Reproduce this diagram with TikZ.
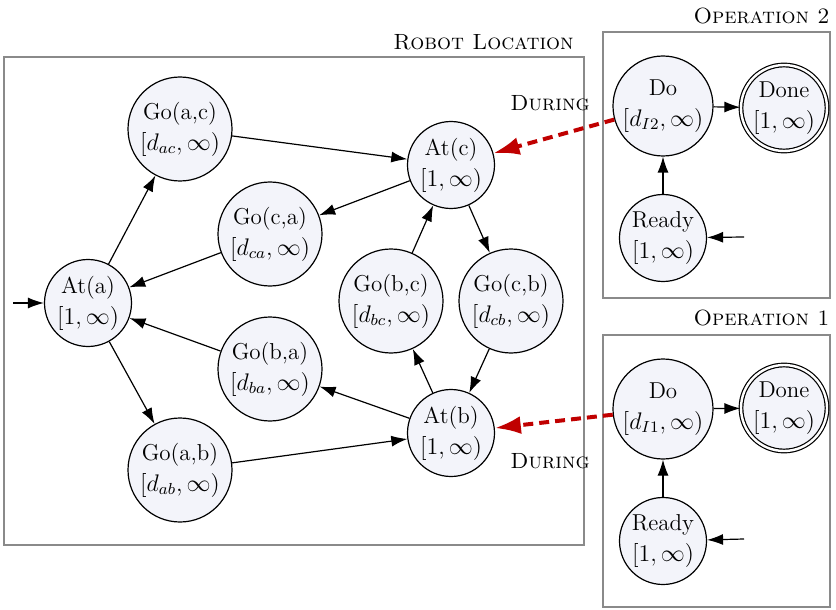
\documentclass[tikz,border=0pt]{standalone}
\usetikzlibrary{arrows.meta}
\definecolor{nodefill}{HTML}{F3F4FA}
\definecolor{boxgray}{HTML}{8A8A8A}
\definecolor{durred}{HTML}{C00000}
\begin{document}
\begin{tikzpicture}[x=0.5pt,y=-0.5pt,
  every node/.style={font=\fontsize{11.5}{15.5}\selectfont},
  st/.style={circle,draw,line width=0.6pt,fill=nodefill,inner sep=0pt,align=center},
  atst/.style={st,minimum size=43.5pt},
  gost/.style={st,minimum size=52pt},
  dost/.style={st,minimum size=50pt},
  donest/.style={st,double,double distance=1.2pt,minimum size=43pt},
  readyst/.style={st,minimum size=43.5pt},
  edge/.style={-{Latex[length=8pt,width=5.5pt]},line width=0.6pt},
  dur/.style={-{Latex[length=13pt,width=9pt]},line width=2pt,draw=durred,dash pattern=on 5pt off 3pt},
  boxst/.style={draw=boxgray,line width=0.8pt},
  lab/.style={font=\fontsize{11}{13}\selectfont\scshape,inner sep=0pt}]
\useasboundingbox (0,0) rectangle (836,610);
% boxes
\draw[boxst] (4,57) rectangle (584,545);
\draw[boxst] (603,32) rectangle (830,298);
\draw[boxst] (603,335) rectangle (830,607);
\node[lab,anchor=east] (lrl) at (574,42) {Robot Location};
\node[lab,anchor=east] (lo2) at (830,16) {Operation 2};
\node[lab,anchor=east] (lo1) at (830,318) {Operation 1};
\node[lab,anchor=east] (ld2) at (590,103) {During};
\node[lab,anchor=east] (ld1) at (590,461) {During};
% robot location
\node[atst] (ata) at (88,303) {At(a)\\$[1,\infty)$};
\node[gost] (goac) at (180,129) {Go(a,c)\\$[d_{ac},\infty)$};
\node[gost] (goab) at (180,470) {Go(a,b)\\$[d_{ab},\infty)$};
\node[gost] (goca) at (270,234) {Go(c,a)\\$[d_{ca},\infty)$};
\node[gost] (goba) at (270,369) {Go(b,a)\\$[d_{ba},\infty)$};
\node[atst] (atc) at (451,165) {At(c)\\$[1,\infty)$};
\node[atst] (atb) at (451,433) {At(b)\\$[1,\infty)$};
\node[gost] (gobc) at (391,301) {Go(b,c)\\$[d_{bc},\infty)$};
\node[gost] (gocb) at (511,301) {Go(c,b)\\$[d_{cb},\infty)$};
\coordinate (ina) at (13,303);
\draw[edge] (ina) -- (ata);
\draw[edge] (ata) -- (goac);
\draw[edge] (ata) -- (goab);
\draw[edge] (goac) -- (atc);
\draw[edge] (goab) -- (atb);
\draw[edge] (atc) -- (goca);
\draw[edge] (goca) -- (ata);
\draw[edge] (atb) -- (goba);
\draw[edge] (goba) -- (ata);
\draw[edge] (gobc) -- (atc);
\draw[edge] (atb) -- (gobc);
\draw[edge] (atc) -- (gocb);
\draw[edge] (gocb) -- (atb);
% operation 2
\node[dost] (do2) at (663,106) {Do\\$[d_{I2},\infty)$};
\node[donest] (done2) at (784,108) {Done\\$[1,\infty)$};
\node[readyst] (ready2) at (663,238) {Ready\\$[1,\infty)$};
\coordinate (in2) at (744,237);
\draw[edge] (do2) -- (done2);
\draw[edge] (ready2) -- (do2);
\draw[edge] (in2) -- (ready2);
% operation 1
\node[dost] (do1) at (663,409) {Do\\$[d_{I1},\infty)$};
\node[donest] (done1) at (784,408) {Done\\$[1,\infty)$};
\node[readyst] (ready1) at (663,541) {Ready\\$[1,\infty)$};
\coordinate (in1) at (744,539);
\draw[edge] (do1) -- (done1);
\draw[edge] (ready1) -- (do1);
\draw[edge] (in1) -- (ready1);
% during
\draw[dur] (do2) -- (atc);
\draw[dur] (do1) -- (atb);
\end{tikzpicture}
\end{document}
